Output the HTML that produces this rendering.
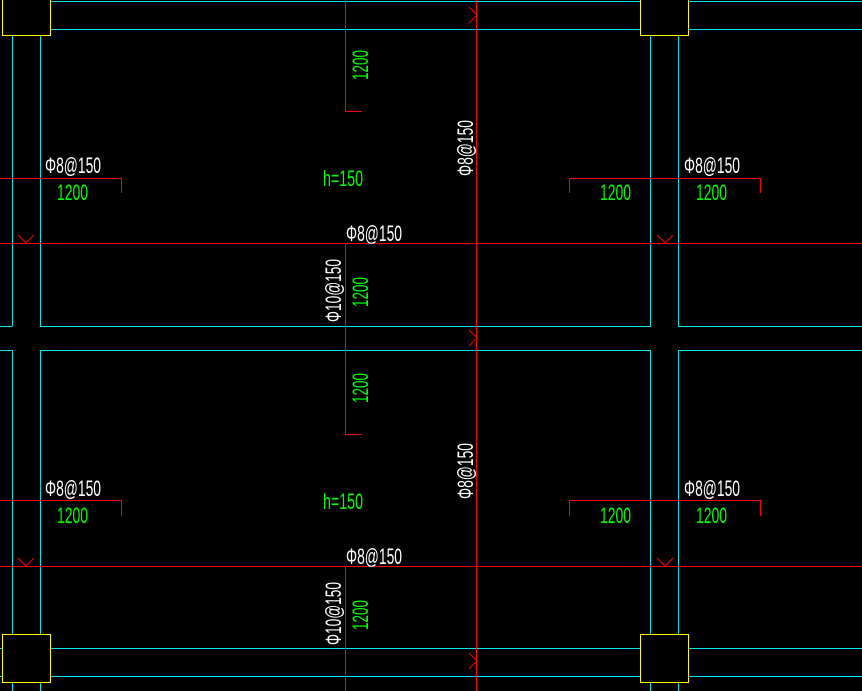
<!DOCTYPE html>
<html><head><meta charset="utf-8"><style>
html,body{margin:0;padding:0;background:#000;}
svg{display:block;}
text{font-family:"Liberation Sans",sans-serif;font-size:22px;}
.w{fill:#fff;}.g{fill:#00ff00;}
</style></head><body>
<svg width="862" height="691" viewBox="0 0 862 691" xmlns="http://www.w3.org/2000/svg" shape-rendering="crispEdges">
<rect width="862" height="691" fill="#000"/>
<g stroke="#00e5ee" stroke-width="1" fill="none">
<!-- top beam -->
<line x1="50" y1="1.5" x2="640" y2="1.5"/><line x1="50" y1="29.5" x2="640" y2="29.5"/>
<line x1="689" y1="1.5" x2="862" y2="1.5"/><line x1="689" y1="29.5" x2="862" y2="29.5"/>
<!-- upper slab verticals -->
<line x1="12.5" y1="35" x2="12.5" y2="326"/><line x1="40.5" y1="35" x2="40.5" y2="326"/>
<line x1="650.5" y1="35" x2="650.5" y2="326"/><line x1="678.5" y1="35" x2="678.5" y2="326"/>
<line x1="0" y1="326.5" x2="12.5" y2="326.5"/><line x1="40" y1="326.5" x2="651" y2="326.5"/><line x1="678" y1="326.5" x2="862" y2="326.5"/>
<!-- lower slab -->
<line x1="0" y1="350.5" x2="12.5" y2="350.5"/><line x1="40" y1="350.5" x2="651" y2="350.5"/><line x1="678" y1="350.5" x2="862" y2="350.5"/>
<line x1="12.5" y1="350" x2="12.5" y2="634"/><line x1="40.5" y1="350" x2="40.5" y2="634"/>
<line x1="650.5" y1="350" x2="650.5" y2="634"/><line x1="678.5" y1="350" x2="678.5" y2="634"/>
<line x1="0" y1="648.5" x2="2" y2="648.5"/><line x1="0" y1="676.5" x2="2" y2="676.5"/>
<line x1="50" y1="648.5" x2="640" y2="648.5"/><line x1="50" y1="676.5" x2="640" y2="676.5"/>
<line x1="689" y1="648.5" x2="862" y2="648.5"/><line x1="689" y1="676.5" x2="862" y2="676.5"/>
<line x1="12.5" y1="682" x2="12.5" y2="691"/><line x1="40.5" y1="682" x2="40.5" y2="691"/>
<line x1="650.5" y1="682" x2="650.5" y2="691"/><line x1="678.5" y1="682" x2="678.5" y2="691"/>
</g>
<g stroke="#ffff00" fill="none">
<rect x="2.5" y="-1" width="48" height="36.5"/>
<rect x="640.5" y="-1" width="48" height="36.5"/>
<rect x="2.5" y="634.5" width="48" height="48"/>
<rect x="640.5" y="634.5" width="48" height="48"/>
</g>
<g stroke="#ff0000" fill="none">
<line x1="476.5" y1="0" x2="476.5" y2="691"/>
<line x1="0" y1="243.5" x2="862" y2="243.5"/>
<line x1="0" y1="566.5" x2="862" y2="566.5"/>
<polyline points="345.5,0 345.5,111.5 362,111.5"/>
<polyline points="345.5,243 345.5,434.5 362,434.5"/>
<line x1="345.5" y1="566" x2="345.5" y2="691"/>
<polyline points="0,178.5 121.5,178.5 121.5,193"/>
<polyline points="0,500.5 121.5,500.5 121.5,516"/>
<polyline points="569.5,193 569.5,178.5 760.5,178.5 760.5,193"/>
<polyline points="569.5,516 569.5,500.5 760.5,500.5 760.5,516"/>
<g shape-rendering="auto">
<polyline points="469,7 477,15 469,23"/>
<polyline points="469,330 477,338 469,346"/>
<polyline points="469,653 477,661 469,669"/>
<polyline points="18,235 26,243 34,235"/>
<polyline points="657,235 665,243 673,235"/>
<polyline points="18,558 26,566 34,558"/>
<polyline points="657,558 665,566 673,558"/>
</g>
</g>
<g id="t">
<text class="w" x="45" y="173" textLength="56" lengthAdjust="spacingAndGlyphs">Φ8@150</text>
<text class="g" x="57" y="200" textLength="31" lengthAdjust="spacingAndGlyphs">1200</text>
<text class="g" x="323" y="186" textLength="40" lengthAdjust="spacingAndGlyphs">h=150</text>
<text class="w" x="346" y="241" textLength="56" lengthAdjust="spacingAndGlyphs">Φ8@150</text>
<text class="w" x="684" y="173" textLength="56" lengthAdjust="spacingAndGlyphs">Φ8@150</text>
<text class="g" x="600" y="200" textLength="31" lengthAdjust="spacingAndGlyphs">1200</text>
<text class="g" x="696" y="200" textLength="31" lengthAdjust="spacingAndGlyphs">1200</text>
<text class="g" transform="translate(368,80) rotate(-90)" x="0" y="0" textLength="30" lengthAdjust="spacingAndGlyphs">1200</text>
<text class="w" transform="translate(341,322) rotate(-90)" x="0" y="0" textLength="63" lengthAdjust="spacingAndGlyphs">Φ10@150</text>
<text class="g" transform="translate(368,307) rotate(-90)" x="0" y="0" textLength="30" lengthAdjust="spacingAndGlyphs">1200</text>
<text class="w" transform="translate(473,176) rotate(-90)" x="0" y="0" textLength="56" lengthAdjust="spacingAndGlyphs">Φ8@150</text>
</g>
<g transform="translate(0,323)">
<text class="w" x="45" y="173" textLength="56" lengthAdjust="spacingAndGlyphs">Φ8@150</text>
<text class="g" x="57" y="200" textLength="31" lengthAdjust="spacingAndGlyphs">1200</text>
<text class="g" x="323" y="186" textLength="40" lengthAdjust="spacingAndGlyphs">h=150</text>
<text class="w" x="346" y="241" textLength="56" lengthAdjust="spacingAndGlyphs">Φ8@150</text>
<text class="w" x="684" y="173" textLength="56" lengthAdjust="spacingAndGlyphs">Φ8@150</text>
<text class="g" x="600" y="200" textLength="31" lengthAdjust="spacingAndGlyphs">1200</text>
<text class="g" x="696" y="200" textLength="31" lengthAdjust="spacingAndGlyphs">1200</text>
<text class="g" transform="translate(368,80) rotate(-90)" x="0" y="0" textLength="30" lengthAdjust="spacingAndGlyphs">1200</text>
<text class="w" transform="translate(341,322) rotate(-90)" x="0" y="0" textLength="63" lengthAdjust="spacingAndGlyphs">Φ10@150</text>
<text class="g" transform="translate(368,307) rotate(-90)" x="0" y="0" textLength="30" lengthAdjust="spacingAndGlyphs">1200</text>
<text class="w" transform="translate(473,176) rotate(-90)" x="0" y="0" textLength="56" lengthAdjust="spacingAndGlyphs">Φ8@150</text>
</g>
</svg>
</body></html>
